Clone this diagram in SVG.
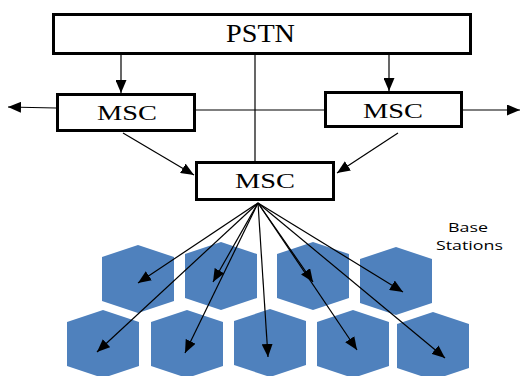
<svg xmlns="http://www.w3.org/2000/svg" width="522" height="376" viewBox="0 0 522 376">
<style>
.box{fill:#fff;stroke:#000;stroke-width:3}
.lbl{font-family:"Liberation Serif","Times New Roman",serif;fill:#000;text-anchor:middle}
.hex{fill:#4f81bd}
.ln{stroke:#000;stroke-width:1.2;fill:none}
.ar{marker-end:url(#ah)}
.cap{font-family:"Open Sans","Noto Sans",sans-serif;font-size:13px;fill:#000;text-anchor:middle}
</style>
<defs>
<marker id="ah" markerUnits="userSpaceOnUse" markerWidth="13" markerHeight="11" viewBox="0 0 13 11" refX="13" refY="5.5" orient="auto">
<path d="M0,0 L13,5.5 L0,11 Z" fill="#000"/>
</marker>
<polygon id="hx" points="0,-34 36,-22 36,22 0,34 -36,22 -36,-22"/>
</defs>
<g id="stations">
<use href="#hx" class="hex" x="138" y="279"/>
<use href="#hx" class="hex" x="221" y="276"/>
<use href="#hx" class="hex" x="313" y="276"/>
<use href="#hx" class="hex" x="396" y="281"/>
<use href="#hx" class="hex" x="103" y="344"/>
<use href="#hx" class="hex" x="187" y="344"/>
<use href="#hx" class="hex" x="270" y="343"/>
<use href="#hx" class="hex" x="353" y="344"/>
<use href="#hx" class="hex" x="433" y="346"/>
</g>
<g id="connectors">
<line class="ln ar" x1="121" y1="55" x2="121" y2="93"/>
<line class="ln ar" x1="389" y1="55" x2="389" y2="91"/>
<line class="ln" x1="255" y1="55" x2="255" y2="161"/>
<line class="ln" x1="196" y1="110" x2="324" y2="110"/>
<line class="ln ar" x1="56" y1="108" x2="8" y2="107"/>
<line class="ln ar" x1="463" y1="110" x2="520" y2="110"/>
<line class="ln ar" x1="123" y1="133" x2="194" y2="175"/>
<line class="ln ar" x1="398" y1="133" x2="337" y2="173"/>
<line class="ln ar" x1="258" y1="203" x2="138" y2="283"/>
<line class="ln ar" x1="258" y1="203" x2="213" y2="282"/>
<line class="ln ar" x1="258" y1="203" x2="97" y2="352"/>
<line class="ln ar" x1="258" y1="203" x2="185" y2="353"/>
<line class="ln ar" x1="258" y1="203" x2="268" y2="357"/>
<line class="ln ar" x1="258" y1="203" x2="313" y2="282"/>
<line class="ln ar" x1="258" y1="203" x2="357" y2="350"/>
<line class="ln ar" x1="258" y1="203" x2="403" y2="292"/>
<line class="ln ar" x1="258" y1="203" x2="445" y2="358"/>
</g>
<g id="pstn">
<rect class="box" x="53.5" y="14.5" width="417" height="39"/>
<text class="lbl" x="260.5" y="42" font-size="25" textLength="69" lengthAdjust="spacingAndGlyphs">PSTN</text>
</g>
<g id="msc-left">
<rect class="box" x="57.5" y="94.5" width="137" height="36"/>
<text class="lbl" x="127" y="120" font-size="21" textLength="60" lengthAdjust="spacingAndGlyphs">MSC</text>
</g>
<g id="msc-right">
<rect class="box" x="325.5" y="92.5" width="136" height="34"/>
<text class="lbl" x="393" y="118" font-size="21" textLength="60" lengthAdjust="spacingAndGlyphs">MSC</text>
</g>
<g id="msc-center">
<rect class="box" x="196.5" y="162.5" width="137" height="37"/>
<text class="lbl" x="265" y="188" font-size="22" textLength="60" lengthAdjust="spacingAndGlyphs">MSC</text>
</g>
<g id="label">
<text class="cap" x="468" y="232" textLength="40" lengthAdjust="spacingAndGlyphs">Base</text>
<text class="cap" x="469.5" y="250" textLength="67" lengthAdjust="spacingAndGlyphs">Stations</text>
</g>
</svg>
